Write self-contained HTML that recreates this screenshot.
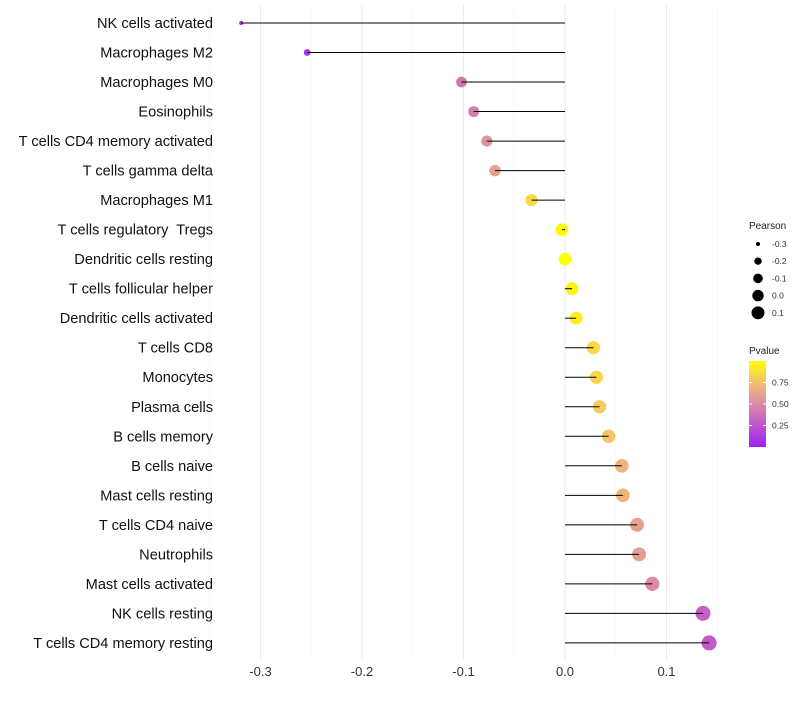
<!DOCTYPE html>
<html><head><meta charset="utf-8"><style>
body{margin:0;background:#fff;font-family:"Liberation Sans",sans-serif}
text{white-space:pre}
</style></head><body>
<svg id="c" width="800" height="700" xmlns="http://www.w3.org/2000/svg">
<defs><linearGradient id="pg" x1="0" y1="1" x2="0" y2="0">
<stop offset="0" stop-color="#a020f0"/><stop offset="0.5" stop-color="#dc8aa8"/><stop offset="0.75" stop-color="#f2c070"/><stop offset="1" stop-color="#ffff00"/></linearGradient></defs>
</svg>
<script>
const cells=["NK cells activated","Macrophages M2","Macrophages M0","Eosinophils","T cells CD4 memory activated","T cells gamma delta","Macrophages M1","T cells regulatory  Tregs","Dendritic cells resting","T cells follicular helper","Dendritic cells activated","T cells CD8","Monocytes","Plasma cells","B cells memory","B cells naive","Mast cells resting","T cells CD4 naive","Neutrophils","Mast cells activated","NK cells resting","T cells CD4 memory resting"];
const pearson=[-0.319,-0.254,-0.102,-0.090,-0.077,-0.069,-0.033,-0.003,0.000,0.007,0.011,0.028,0.031,0.034,0.043,0.056,0.057,0.071,0.073,0.086,0.136,0.142];
const pvals=[0.03,0.08,0.4,0.45,0.55,0.6,0.85,0.98,1.0,0.95,0.93,0.85,0.84,0.8,0.77,0.7,0.7,0.6,0.58,0.5,0.3,0.28];
const xTicks=[-0.3,-0.2,-0.1,0.0,0.1];
const sizeBreaks=[-0.3,-0.2,-0.1,0.0,0.1];
const pTicks=[0.25,0.5,0.75];
const svg=document.getElementById('c');const NS="http://www.w3.org/2000/svg";
function mk(t,a,p){const e=document.createElementNS(NS,t);for(const k in a)e.setAttribute(k,a[k]);(p||svg).appendChild(e);return e;}
const X=v=>565+v*1015;
const Y=i=>23+i*29.52;
const R=v=>Math.sqrt(4+113.6*Math.max(0,v+0.32));
const RL=v=>Math.sqrt(4+95*Math.max(0,v+0.3));
function col(p){const st=[[0,[160,32,240]],[0.5,[220,138,168]],[0.75,[242,192,112]],[1,[255,255,0]]];
for(let i=1;i<st.length;i++){if(p<=st[i][0]){const a=st[i-1],b=st[i],t=(p-a[0])/(b[0]-a[0]);return 'rgb('+a[1].map((c,j)=>Math.round(c+(b[1][j]-c)*t)).join(',')+')';}}return 'rgb(255,255,0)';}
for(let k=-7;k<=3;k++){const v=k*0.05;const major=k%2===0;
const g=mk('line',{x1:X(v),x2:X(v),y1:5,y2:660,stroke:major?'#ebebeb':'#f5f5f5','stroke-width':major?1:0.6});
}
xTicks.forEach(v=>{const t=mk('text',{x:X(v),y:676,'text-anchor':'middle','font-size':13,fill:'#333'});t.textContent=v.toFixed(1);
});
cells.forEach((c,i)=>{const y=Y(i);
const t=mk('text',{x:213,y:y+5,'text-anchor':'end','font-size':14.6,fill:'#111'});t.textContent=c;

const d=mk('circle',{cx:X(pearson[i]),cy:y,r:R(pearson[i]),fill:col(pvals[i])});

const l=mk('line',{x1:X(0),x2:X(pearson[i]),y1:y,y2:y,stroke:'#000','stroke-width':1});
});
const lt=mk('text',{x:749,y:229,'font-size':10,fill:'#222'});lt.textContent='Pearson';

sizeBreaks.forEach((v,i)=>{const y=244+i*17.2;
const c=mk('circle',{cx:758,cy:y,r:RL(v),fill:'#000'});
const t=mk('text',{x:772,y:y+3,'font-size':8.5,fill:'#333'});t.textContent=v.toFixed(1);
});
const pt=mk('text',{x:749,y:354,'font-size':10,fill:'#222'});pt.textContent='Pvalue';

const cb=mk('rect',{x:749,y:361,width:17,height:86,fill:'url(#pg)'});

pTicks.forEach(p=>{const y=447-p*86;
mk('line',{x1:749,x2:752,y1:y,y2:y,stroke:'#fff'});mk('line',{x1:763,x2:766,y1:y,y2:y,stroke:'#fff'});
const t=mk('text',{x:772,y:y+3,'font-size':8.5,fill:'#333'});t.textContent=p.toFixed(2);
});
</script>
</body></html>
